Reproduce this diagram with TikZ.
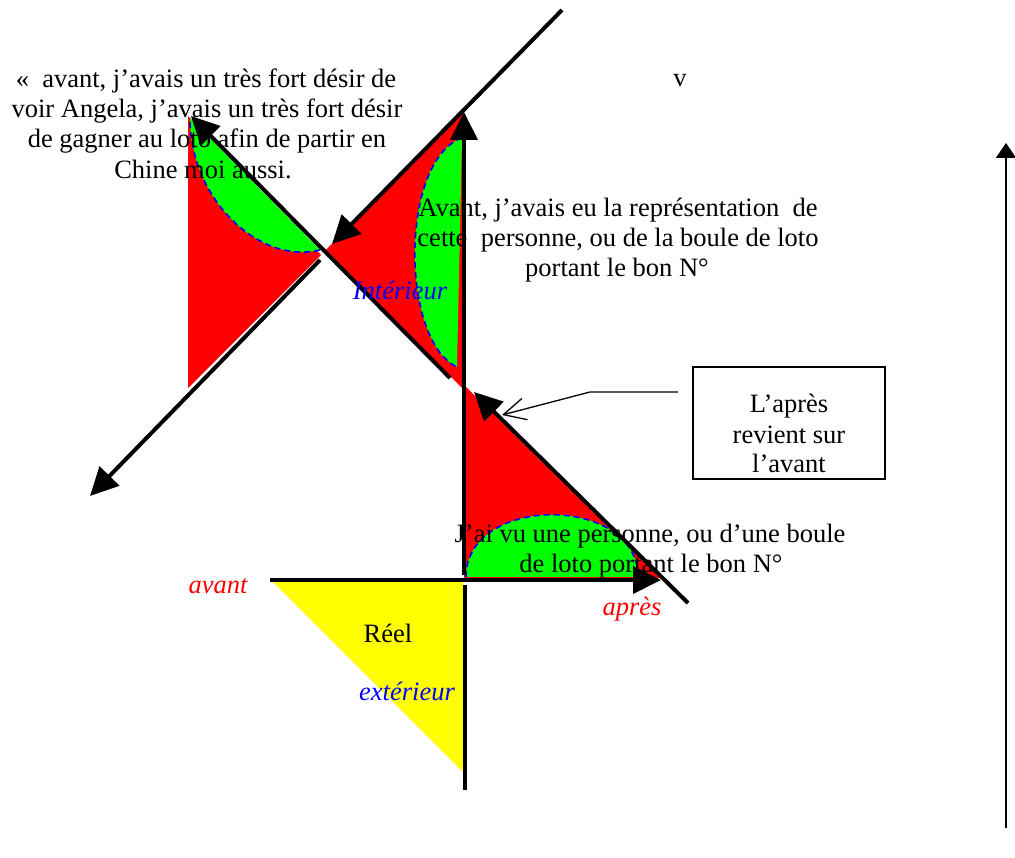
\documentclass[tikz,border=0pt]{standalone}
\usepackage{fontspec}
\setmainfont{Liberation Serif}
\usetikzlibrary{arrows.meta}
\definecolor{pred}{RGB}{255,0,0}
\definecolor{pgreen}{RGB}{0,255,0}
\definecolor{pyellow}{RGB}{255,255,0}
\definecolor{pblue}{RGB}{0,0,255}
\begin{document}
\begin{tikzpicture}[x=1pt,y=-1pt,
  txt/.style={inner sep=0pt, anchor=base, font=\fontsize{26.5}{30}\selectfont},
  redtxt/.style={txt, text=pred, font=\fontsize{26.5}{30}\selectfont\itshape},
  bluetxt/.style={txt, text=pblue, font=\fontsize{26.5}{30}\selectfont\itshape},
  axisarrow/.style={line width=4pt, -{Triangle[length=28pt,width=27pt]}},
  axisline/.style={line width=4pt},
  thinarrow/.style={line width=2pt, -{Triangle[length=15pt,width=20pt]}},
  bluedash/.style={draw=pblue, line width=1.6pt, dash pattern=on 6pt off 4pt},
  callout/.style={line width=1.3pt, -{Straight Barb[length=22pt,width=22pt,line width=1.3pt]}},
  boxstyle/.style={draw, line width=1.2pt, minimum width=192pt, minimum height=112pt, inner sep=0pt}
]
\useasboundingbox (0,0) rectangle (1015,858);
\fill[white] (0,0) rectangle (1015,858);

% red regions
\fill[pred] (188,116) -- (188,388) -- (321,255) -- cycle;
\fill[pred] (463,112) -- (326,250) -- (452,378) -- (464,390) -- cycle;
\fill[pred] (464,385) -- (464,578) -- (660,578) -- cycle;
% yellow
\fill[pyellow] (273,582) -- (463,582) -- (463,772) -- cycle;

% hidden red label
\node[redtxt] (hidden) at (567,520) {après};

% green regions
\fill[pgreen] (190,118) -- (320,250) .. controls (260,265) and (190,200) .. (190,118) -- cycle;
\draw[bluedash] (320,250) .. controls (260,265) and (190,200) .. (190,118);
\fill[pgreen] (462,138) .. controls (400,160) and (400,340) .. (457,367) -- cycle;
\draw[bluedash] (462,138) .. controls (400,160) and (400,340) .. (457,367);
\fill[pgreen] (466,577) .. controls (466,494) and (638,494) .. (638,577) -- cycle;
\draw[bluedash] (466,577) .. controls (466,494) and (638,494) .. (638,577);

% axes
\coordinate (L1a) at (562,10);  \coordinate (L1b) at (332,244);
\coordinate (L2a) at (320,260); \coordinate (L2b) at (90,496);
\coordinate (L3a) at (450,378); \coordinate (L3b) at (191,116);
\coordinate (V1a) at (464,575); \coordinate (V1b) at (464,112);
\coordinate (L4a) at (688,603); \coordinate (L4b) at (474,392);
\coordinate (H1a) at (270,580); \coordinate (H1b) at (661,580);
\coordinate (V2a) at (465,585); \coordinate (V2b) at (465,790);
\coordinate (Ra) at (1006,828); \coordinate (Rb) at (1006,143);
\draw[axisarrow] (L1a) -- (L1b);
\draw[axisarrow] (L2a) -- (L2b);
\draw[axisarrow] (L3a) -- (L3b);
\draw[axisarrow] (V1a) -- (V1b);
\draw[axisarrow] (L4a) -- (L4b);
\draw[axisarrow] (H1a) -- (H1b);
\draw[axisline] (V2a) -- (V2b);
\draw[thinarrow] (Ra) -- (Rb);

% callout box
\node[boxstyle] (box) at (789,423) {};
\node[txt] (b1) at (789,413) {L’après};
\node[txt] (b2) at (789,443) {revient sur};
\node[txt] (b3) at (789,472) {l’avant};
\coordinate (cs) at (678,392);
\coordinate (ck) at (590,392);
\coordinate (ct) at (502,415);
\draw[callout] (cs) -- (ck) -- (ct);

% texts
\node[txt] (t1) at (206,88) {«\ \ avant, j’avais un très fort désir de};
\node[txt] (t2) at (207,118) {voir Angela, j’avais un très fort désir};
\node[txt] (t3) at (207,148) {de gagner au loto afin de partir en};
\node[txt] (t4) at (203,179) {Chine moi aussi.};
\node[txt] (v) at (680,87) {v};
\node[txt] (c1) at (618,217) {Avant, j’avais eu la représentation\ \ de};
\node[txt] (c2) at (618,247) {cette\ \ personne, ou de la boule de loto};
\node[txt] (c3) at (617,277) {portant le bon N°};
\node[bluetxt] (int) at (400,300) {Intérieur};
\node[txt] (j1) at (650,542) {J’ai vu une personne, ou d’une boule};
\node[txt] (j2) at (651,572) {de loto portant le bon N°};
\node[redtxt] (av) at (218,593) {avant};
\node[redtxt] (ap) at (632,615) {après};
\node[txt] (reel) at (388,642) {Réel};
\node[bluetxt] (ext) at (407,700) {extérieur};
\end{tikzpicture}
\end{document}
